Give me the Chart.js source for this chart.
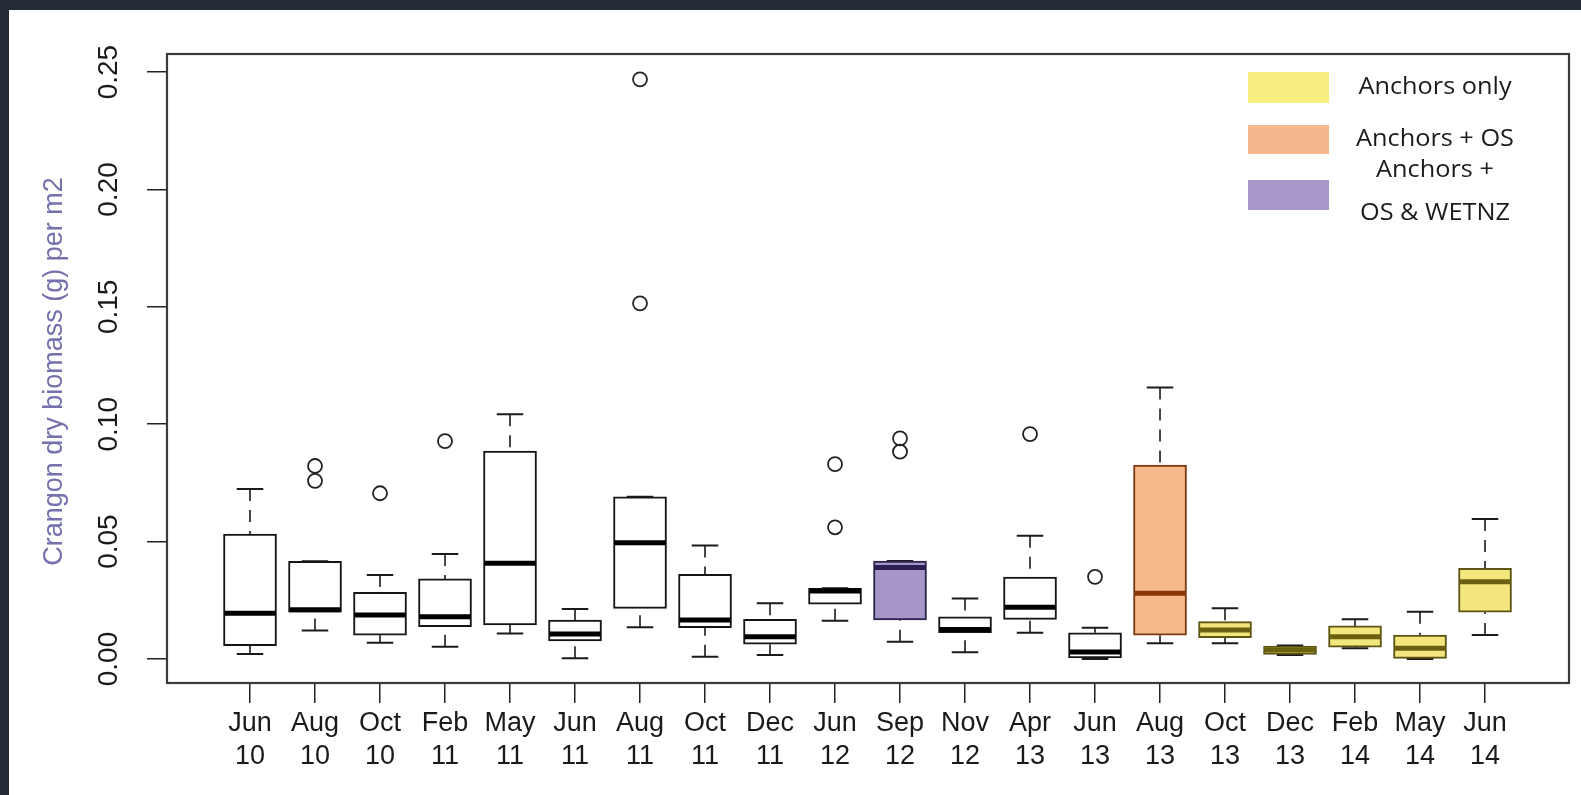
<!DOCTYPE html>
<html>
<head>
<meta charset="utf-8">
<title>Crangon dry biomass</title>
<script src="https://cdn.jsdelivr.net/npm/chart.js@4.4.1/dist/chart.umd.min.js"></script>
<style>
  html, body { margin: 0; padding: 0; width: 1581px; height: 795px; overflow: hidden; background: #232b34; }
  #panel { position: absolute; left: 9px; top: 10px; width: 1572px; height: 785px; background: #ffffff; }
  canvas { display: block; }
</style>
</head>
<body>
<div id="panel"><canvas id="chart" width="1572" height="785"></canvas></div>
<script>
// Sampling occasions (month / two-digit year)
const months = ['Jun','Aug','Oct','Feb','May','Jun','Aug','Oct','Dec','Jun','Sep','Nov','Apr','Jun','Aug','Oct','Dec','Feb','May','Jun'];
const years  = ['10','10','10','11','11','11','11','11','11','12','12','12','13','13','13','13','13','14','14','14'];

// Box-plot statistics, Crangon dry biomass (g) per m2
const whiskerLow  = [0.0021,0.0121,0.0069,0.0052,0.0109,0.0003,0.0135,0.0010,0.0017,0.0163,0.0074,0.0029,0.0112,0.0000,0.0067,0.0067,0.0017,0.0046,0.0000,0.0102];
const quartile1   = [0.0057,0.0199,0.0101,0.0138,0.0145,0.0077,0.0216,0.0133,0.0063,0.0234,0.0166,0.0112,0.0169,0.0005,0.0101,0.0091,0.0020,0.0050,0.0003,0.0199];
const medians     = [0.0195,0.0210,0.0187,0.0180,0.0408,0.0106,0.0495,0.0166,0.0095,0.0290,0.0390,0.0126,0.0220,0.0030,0.0280,0.0124,0.0038,0.0095,0.0046,0.0329];
const quartile3   = [0.0532,0.0416,0.0284,0.0341,0.0886,0.0166,0.0691,0.0361,0.0169,0.0301,0.0417,0.0180,0.0349,0.0112,0.0826,0.0159,0.0055,0.0141,0.0102,0.0386];
const whiskerHigh = [0.0724,0.0416,0.0358,0.0447,0.1043,0.0213,0.0691,0.0483,0.0237,0.0301,0.0417,0.0258,0.0525,0.0133,0.1157,0.0216,0.0058,0.0169,0.0201,0.0596];
const outliers    = [[],[0.0822,0.0759],[0.0706],[0.0928],[],[],[0.2469,0.1515],[],[],[0.0830,0.0561],[0.0940,0.0883],[],[0.0958],[0.0350],[],[],[],[],[],[]];

// Treatment applied at each occasion
const treatment = ['none','none','none','none','none','none','none','none','none','none','wetnz','none','none','none','os','anchors','anchors','anchors','anchors','anchors'];

// Axis ticks
const yTicks = [0, 0.05, 0.10, 0.15, 0.20, 0.25];

// Legend entries
const legendKeys   = ['anchors', 'os', 'wetnz'];
const legendLabels = [['Anchors only'], ['Anchors + OS'], ['Anchors +', 'OS & WETNZ']];

// ---- styling ----
const palette = {
  none:    { fill: '#ffffff', line: '#151515', median: '#000000' },
  wetnz:   { fill: '#a696c8', line: '#2c2250', median: '#2a1e55' },
  os:      { fill: '#f5b98b', line: '#7a3a12', median: '#8b3608' },
  anchors: { fill: '#f2e67c', line: '#5d5516', median: '#6a6012' }
};
const legendFill = { anchors: '#f7ee82', os: '#f4b88c', wetnz: '#a897cb' };
const FONT_AXIS = '"Liberation Sans", Arial, Helvetica, sans-serif';
const FONT_LEGEND = '"Open Sans", "Noto Sans", sans-serif';

const positions = months.map((_, i) => i + 1);

const boxData = positions.map((p, i) => ({ x: p, y: [quartile1[i], quartile3[i]] }));
const outlierData = [];
outliers.forEach((vals, i) => vals.forEach(v => outlierData.push({ x: positions[i], y: v })));

const boxParts = {
  id: 'boxParts',
  beforeDatasetsDraw(chart) {
    const { ctx, scales: { x, y } } = chart;
    const bars = chart.getDatasetMeta(0).data;
    ctx.save();
    ctx.strokeStyle = '#1a1a1a';
    positions.forEach((p, i) => {
      const cx = x.getPixelForValue(p);
      const cap = bars[i].width * 0.5;
      // dashed whiskers from the whisker end towards the hinge
      ctx.lineWidth = 1.6;
      ctx.setLineDash([12, 9]);
      ctx.beginPath();
      ctx.moveTo(cx, y.getPixelForValue(whiskerHigh[i]));
      ctx.lineTo(cx, y.getPixelForValue(quartile3[i]));
      ctx.moveTo(cx, y.getPixelForValue(whiskerLow[i]));
      ctx.lineTo(cx, y.getPixelForValue(quartile1[i]));
      ctx.stroke();
      // staples
      ctx.setLineDash([]);
      ctx.lineWidth = 2;
      ctx.beginPath();
      [whiskerHigh[i], whiskerLow[i]].forEach(v => {
        const py = y.getPixelForValue(v);
        ctx.moveTo(cx - cap / 2, py);
        ctx.lineTo(cx + cap / 2, py);
      });
      ctx.stroke();
    });
    ctx.restore();
  },
  afterDatasetsDraw(chart) {
    const { ctx, scales: { y } } = chart;
    const bars = chart.getDatasetMeta(0).data;
    ctx.save();
    ctx.lineWidth = 5;
    bars.forEach((bar, i) => {
      const py = y.getPixelForValue(medians[i]);
      ctx.strokeStyle = palette[treatment[i]].median;
      ctx.beginPath();
      ctx.moveTo(bar.x - bar.width / 2 + 1, py);
      ctx.lineTo(bar.x + bar.width / 2 - 1, py);
      ctx.stroke();
    });
    ctx.restore();
  },
  afterDraw(chart) {
    const { ctx, chartArea: a, scales: { y } } = chart;
    ctx.save();
    // plot frame
    ctx.strokeStyle = '#3a3a3a';
    ctx.lineWidth = 2.2;
    ctx.strokeRect(a.left, a.top, a.right - a.left, a.bottom - a.top);

    // y tick labels, written along the axis
    ctx.fillStyle = '#1a1a1a';
    ctx.font = '28px ' + FONT_AXIS;
    ctx.textAlign = 'center';
    ctx.textBaseline = 'middle';
    yTicks.forEach(v => {
      ctx.save();
      ctx.translate(a.left - 58, y.getPixelForValue(v));
      ctx.rotate(-Math.PI / 2);
      ctx.fillText(v.toFixed(2), 0, 0);
      ctx.restore();
    });

    // y axis title
    ctx.save();
    ctx.fillStyle = '#7471ad';
    ctx.font = '27px ' + FONT_AXIS;
    ctx.translate(a.left - 112, (a.top + a.bottom) / 2 + 3);
    ctx.rotate(-Math.PI / 2);
    ctx.fillText('Crangon dry biomass (g) per m2', 0, 0);
    ctx.restore();

    // legend
    const swX = a.right - 321, swW = 81;
    const swY = [a.top + 18, a.top + 71, a.top + 126];
    const swH = [31, 29, 30];
    const textX = a.right - 134;
    ctx.font = '23px ' + FONT_LEGEND;
    legendKeys.forEach((k, i) => {
      ctx.fillStyle = legendFill[k];
      ctx.fillRect(swX, swY[i], swW, swH[i]);
      ctx.fillStyle = '#1c1c1c';
      const lines = legendLabels[i];
      const mid = swY[i] + swH[i] / 2;
      lines.forEach((t, j) => {
        const ty = lines.length === 1 ? mid : mid + (j === 0 ? -25 : 18);
        ctx.save();
        ctx.translate(textX, ty);
        ctx.scale(1.1, 1);
        ctx.fillText(t, 0, 0);
        ctx.restore();
      });
    });
    ctx.restore();
  }
};

new Chart(document.getElementById('chart'), {
  type: 'bar',
  data: {
    datasets: [
      {
        type: 'bar',
        data: boxData,
        backgroundColor: treatment.map(t => palette[t].fill),
        borderColor: treatment.map(t => palette[t].line),
        borderWidth: 2,
        borderSkipped: false,
        barThickness: 53,
        grouped: false
      },
      {
        type: 'scatter',
        data: outlierData,
        pointRadius: 7,
        pointBorderWidth: 1.8,
        borderColor: '#222222',
        backgroundColor: 'rgba(0,0,0,0)',
        showLine: false
      }
    ]
  },
  options: {
    responsive: false,
    animation: false,
    events: [],
    layout: { padding: { top: 44, right: 12, left: 0, bottom: 0 } },
    plugins: { legend: { display: false }, tooltip: { enabled: false } },
    scales: {
      x: {
        type: 'linear',
        min: -0.277,
        max: 21.292,
        offset: false,
        afterBuildTicks: s => { s.ticks = positions.map(v => ({ value: v })); },
        afterFit: s => { s.height = 112; },
        grid: { display: true, drawOnChartArea: false, drawTicks: true, tickLength: 20, color: '#222222', lineWidth: 1.5, offset: false },
        border: { display: false },
        ticks: {
          autoSkip: false, maxRotation: 0, minRotation: 0, padding: 4,
          color: '#1a1a1a',
          font: { family: FONT_AXIS, size: 27, lineHeight: 1.22 },
          callback: (v, i) => [months[i], years[i]]
        }
      },
      y: {
        type: 'linear',
        min: -0.01022,
        max: 0.2577,
        afterBuildTicks: s => { s.ticks = yTicks.map(v => ({ value: v })); },
        afterFit: s => { s.width = 158; },
        grid: { display: true, drawOnChartArea: false, drawTicks: true, tickLength: 20, color: '#222222', lineWidth: 1.5 },
        border: { display: false },
        ticks: { display: false }
      }
    }
  },
  plugins: [boxParts]
});
</script>
</body>
</html>
